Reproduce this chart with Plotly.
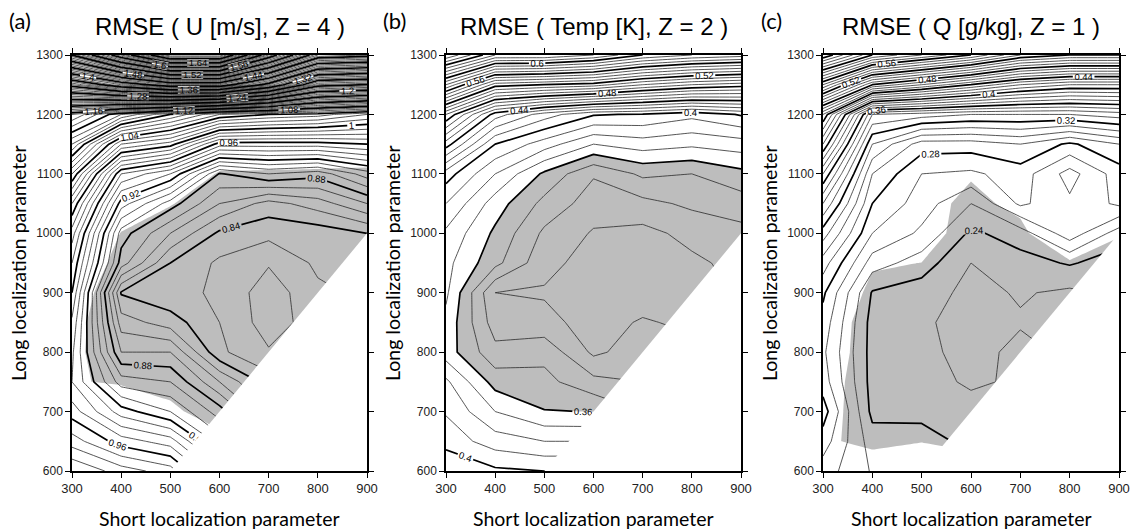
import plotly.graph_objects as go

# ---------------- data ----------------
SHORT = [300, 400, 500, 600, 700, 800, 900]
LONG = [600, 650, 700, 750, 800, 850, 900, 950, 1000, 1050, 1100, 1150, 1200, 1250, 1300]

# (a) RMSE of U, rows = LONG (bottom to top), cols = SHORT
A_RMSE = [
    [1.00, 0.985, 0.975, 0.935, 0.90, 0.87, 0.85],
    [0.975, 0.955, 0.945, 0.905, 0.87, 0.85, 0.84],
    [0.955, 0.925, 0.91, 0.885, 0.85, 0.835, 0.83],
    [0.94, 0.895, 0.89, 0.86, 0.835, 0.83, 0.828],
    [0.942, 0.87, 0.87, 0.832, 0.821, 0.825, 0.826],
    [0.948, 0.855, 0.845, 0.83, 0.815, 0.825, 0.828],
    [0.96, 0.839, 0.832, 0.829, 0.814, 0.828, 0.832],
    [0.97, 0.875, 0.84, 0.828, 0.821, 0.832, 0.835],
    [0.985, 0.885, 0.86, 0.838, 0.833, 0.834, 0.84],
    [1.01, 0.915, 0.885, 0.86, 0.846, 0.855, 0.87],
    [1.05, 0.95, 0.93, 0.879, 0.89, 0.884, 0.905],
    [1.10, 1.02, 1.005, 0.955, 0.955, 0.955, 0.96],
    [1.15, 1.11, 1.08, 1.05, 1.04, 1.035, 1.02],
    [1.33, 1.38, 1.42, 1.42, 1.35, 1.25, 1.24],
    [1.52, 1.62, 1.72, 1.72, 1.58, 1.46, 1.45],
]
# (a) shading indicator (negative = shaded)
A_SHADE = [
    [5, 5, 5, 3, -1, -1, -1],
    [5, 5, 3, 1, -1, -1, -1],
    [5, 4, 0.6, -1.5, -2, -2, -2],
    [0.33, -0.5, -1, -2, -2, -2, -2],
    [0.74, -2, -2, -2, -2, -2, -2],
    [0.86, -2, -2, -2, -2, -2, -2],
    [1.23, -1.5, -2, -2, -2, -2, -2],
    [1.03, -0.4, -2, -2, -2, -2, -2],
    [2, -0.05, -1, -2, -2, -2, -2],
    [3, 1, 0.1, -1, -1, -1, -1],
    [4, 2, 1, -0.1, -0.15, -0.2, -0.27],
    [4, 3, 2, 1, 1, 1, 1],
    [4, 4, 4, 4, 4, 4, 4],
    [4, 4, 4, 4, 4, 4, 4],
    [4, 4, 4, 4, 4, 4, 4],
]

# (b) RMSE of Temp
B_RMSE = [
    [0.41, 0.402, 0.40, 0.40, 0.37, 0.36, 0.355],
    [0.396, 0.385, 0.38, 0.38, 0.36, 0.352, 0.35],
    [0.389, 0.37, 0.3605, 0.3598, 0.35, 0.345, 0.345],
    [0.382, 0.356, 0.353, 0.343, 0.34, 0.338, 0.34],
    [0.365, 0.343, 0.347, 0.328, 0.335, 0.333, 0.335],
    [0.367, 0.335, 0.333, 0.326, 0.331, 0.328, 0.332],
    [0.372, 0.33, 0.329, 0.325, 0.325, 0.326, 0.331],
    [0.373, 0.353, 0.333, 0.326, 0.325, 0.328, 0.333],
    [0.378, 0.358, 0.338, 0.329, 0.327, 0.333, 0.337],
    [0.39, 0.365, 0.347, 0.335, 0.337, 0.342, 0.345],
    [0.405, 0.38, 0.358, 0.341, 0.352, 0.35, 0.357],
    [0.445, 0.40, 0.385, 0.37, 0.375, 0.372, 0.375],
    [0.49, 0.435, 0.415, 0.401, 0.399, 0.393, 0.401],
    [0.58, 0.525, 0.52, 0.515, 0.50, 0.49, 0.485],
    [0.67, 0.63, 0.63, 0.62, 0.60, 0.59, 0.585],
]

# (c) RMSE of Q
C_RMSE = [
    [0.265, 0.249, 0.248, 0.24, 0.235, 0.23, 0.23],
    [0.275, 0.245, 0.243, 0.238, 0.233, 0.23, 0.23],
    [0.285, 0.237, 0.238, 0.235, 0.232, 0.229, 0.23],
    [0.275, 0.236, 0.235, 0.228, 0.232, 0.229, 0.23],
    [0.272, 0.236, 0.233, 0.226, 0.233, 0.228, 0.23],
    [0.276, 0.236, 0.232, 0.225, 0.229, 0.228, 0.23],
    [0.282, 0.239, 0.235, 0.227, 0.231, 0.228, 0.232],
    [0.295, 0.255, 0.245, 0.23, 0.236, 0.241, 0.235],
    [0.315, 0.27, 0.258, 0.238, 0.245, 0.266, 0.245],
    [0.34, 0.28, 0.265, 0.25, 0.272, 0.262, 0.272],
    [0.37, 0.29, 0.27, 0.268, 0.275, 0.256, 0.275],
    [0.41, 0.31, 0.285, 0.285, 0.29, 0.278, 0.29],
    [0.45, 0.34, 0.335, 0.33, 0.33, 0.33, 0.335],
    [0.55, 0.48, 0.46, 0.44, 0.42, 0.41, 0.41],
    [0.65, 0.60, 0.58, 0.56, 0.53, 0.52, 0.52],
]
C_SHADE = [
    [2, 1, 1, 1, -1, -1, -1],
    [0.23, -0.39, -0.04, -0.5, -1, -1, -1],
    [0.7, -1, -1, -1, -1, -1, -1],
    [0.8, -1, -1, -1, -1, -1, -1],
    [1.2, -1, -1, -1, -1, -1, -1],
    [1.4, -1, -1, -1, -1, -1, -1],
    [2.1, -0.5, -1, -1, -1, -1, -1],
    [2, 0.21, -0.02, -1, -1, -0.5, -1],
    [2, 1, 1, -1, -1, 4.5, 0.16],
    [2, 1.5, 1.5, -1, 1, 4.5, 1],
    [2, 2, 2, 0.35, 2, 4, 2],
    [2, 2, 2, 2, 2, 2, 2],
    [2, 2, 2, 2, 2, 2, 2],
    [2, 2, 2, 2, 2, 2, 2],
    [2, 2, 2, 2, 2, 2, 2],
]

TITLES = ["RMSE ( U [m/s], Z = 4 )", "RMSE ( Temp [K], Z = 2 )", "RMSE ( Q [g/kg], Z = 1 )"]
LETTERS = ["(a)", "(b)", "(c)"]
RMSE = [A_RMSE, B_RMSE, C_RMSE]
SHADE = [A_SHADE, B_RMSE, C_SHADE]
SHADE_LEVEL = [0.0, 0.36, 0.0]
THICK_START = [0.84, 0.32, 0.24]
LEVEL_END = [1.76, 0.72, 0.68]
MIN_GAP = 100  # long parameter must exceed short parameter by this

# ---------------- layout geometry ----------------
W, H = 1135, 531
PX_L = [72, 446, 823]
PX_R = [367, 741, 1119]
PX_T, PX_B = 55, 471

fig = go.Figure()

for i in range(3):
    xa = "x" if i == 0 else f"x{i+1}"
    ya = "y" if i == 0 else f"y{i+1}"
    z = RMSE[i]
    # shaded region (z < level)
    fig.add_trace(go.Contour(
        x=SHORT, y=LONG, z=SHADE[i], xaxis=xa, yaxis=ya,
        contours=dict(type="constraint", operation=">", value=SHADE_LEVEL[i]),
        fillcolor="#bdbdbd", line=dict(width=0, smoothing=0), showscale=False,
        hoverinfo="skip", showlegend=False))
    # thin contour lines (0.01) skipping the thick ones
    for k in (1, 2, 3):
        fig.add_trace(go.Contour(
            x=SHORT, y=LONG, z=z, xaxis=xa, yaxis=ya, autocontour=False,
            contours=dict(start=THICK_START[i] - 0.04 + 0.01 * k, end=LEVEL_END[i],
                          size=0.04, coloring="none", showlabels=False),
            line=dict(color="#2a2a2a", width=0.8, smoothing=0),
            showscale=False, hoverinfo="skip", showlegend=False))
    # thick contour lines (0.04) with labels
    fig.add_trace(go.Contour(
        x=SHORT, y=LONG, z=z, xaxis=xa, yaxis=ya, autocontour=False,
        contours=dict(start=THICK_START[i], end=LEVEL_END[i], size=0.04,
                      coloring="none", showlabels=True,
                      labelfont=dict(size=9.5, color="black", family="Liberation Sans"),
                      labelformat=".3~g"),
        line=dict(color="black", width=1.7, smoothing=0),
        showscale=False, hoverinfo="skip", showlegend=False))
    # blank the invalid (short > long - gap) triangle
    x0 = LONG[0] - MIN_GAP
    pad = 30
    fig.add_trace(go.Scatter(
        x=[x0 - pad, SHORT[-1] + pad, SHORT[-1] + pad, x0 - pad],
        y=[LONG[0] - pad, SHORT[-1] + MIN_GAP + pad, LONG[0] - pad, LONG[0] - pad],
        xaxis=xa, yaxis=ya, mode="lines", fill="toself", fillcolor="white",
        line=dict(width=0, color="white"), hoverinfo="skip", showlegend=False))

axis_common = dict(showline=True, linecolor="black", linewidth=1.5, mirror="ticks",
                   ticks="outside", ticklen=5, tickwidth=1, tickcolor="black",
                   showgrid=False, zeroline=False, automargin=False)
layout = dict(width=W, height=H,
              margin=dict(l=0, r=0, t=0, b=0, pad=0, autoexpand=False),
              plot_bgcolor="white", paper_bgcolor="white", showlegend=False)
ann = []
for i in range(3):
    sx = "xaxis" if i == 0 else f"xaxis{i+1}"
    sy = "yaxis" if i == 0 else f"yaxis{i+1}"
    layout[sx] = dict(domain=[PX_L[i] / W, PX_R[i] / W], range=[SHORT[0], SHORT[-1]],
                      tickvals=SHORT, anchor="y" if i == 0 else f"y{i+1}",
                      tickfont=dict(family="Liberation Sans", size=13, color="#222"),
                      **axis_common)
    layout[sy] = dict(domain=[1 - PX_B / H, 1 - PX_T / H], range=[LONG[0], LONG[-1]],
                      tickvals=list(range(600, 1301, 100)),
                      anchor="x" if i == 0 else f"x{i+1}",
                      tickfont=dict(family="Liberation Sans", size=12, color="#222"),
                      **axis_common)
    cx = (PX_L[i] + PX_R[i]) / 2 / W
    ann.append(dict(text=TITLES[i], x=cx, y=1 - 27 / H, xref="paper", yref="paper",
                    showarrow=False, xanchor="center", yanchor="middle",
                    font=dict(family="Liberation Sans", size=24, color="black")))
    ann.append(dict(text=LETTERS[i], x=(PX_L[i] - 52) / W, y=1 - 21 / H, xref="paper",
                    yref="paper", showarrow=False, xanchor="center", yanchor="middle",
                    font=dict(family="Lato", size=22, color="black")))
    ann.append(dict(text="Short localization parameter", x=cx, y=1 - 518 / H,
                    xref="paper", yref="paper", showarrow=False, xanchor="center",
                    yanchor="middle", font=dict(family="Lato", size=19.5, color="black")))
    ann.append(dict(text="Long localization parameter", x=(PX_L[i] - 54) / W,
                    y=1 - (PX_T + PX_B) / 2 / H, xref="paper", yref="paper",
                    showarrow=False, xanchor="center", yanchor="middle", textangle=-90,
                    font=dict(family="Lato", size=19.5, color="black")))
layout["annotations"] = ann
fig.update_layout(**layout)
fig.write_html("out.html", config={"displayModeBar": False},
               post_script="document.body.style.margin='0px';document.body.style.overflow='hidden';")
